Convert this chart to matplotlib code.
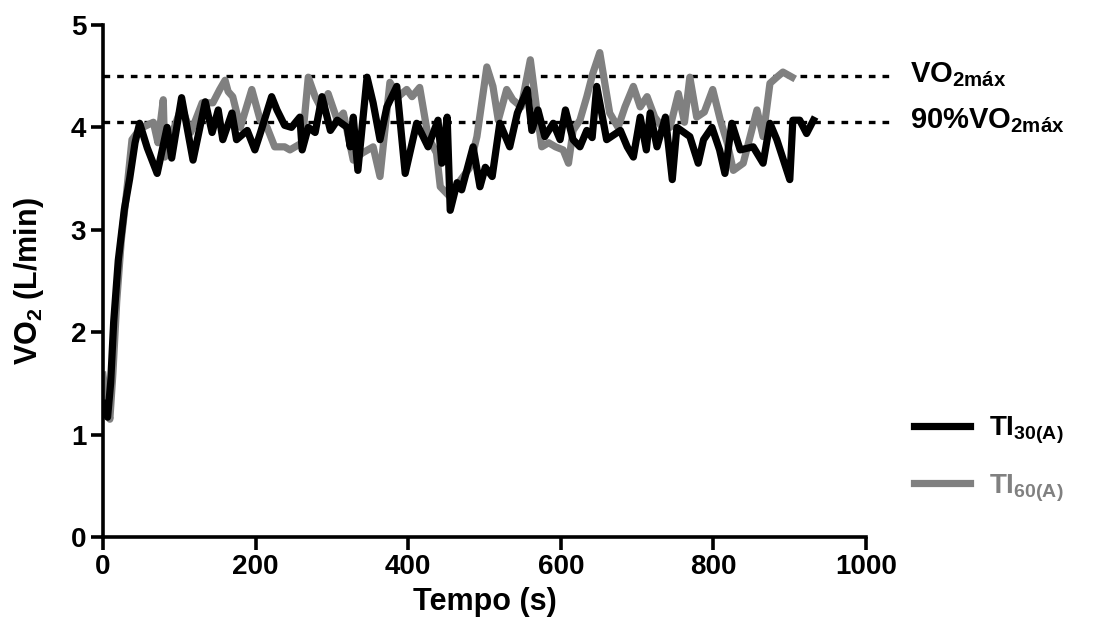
import matplotlib
matplotlib.use("Agg")
import matplotlib.pyplot as plt

# VO2 over time (s), two interval-training sessions
t_30 = [0, 6, 10, 14, 20, 28, 35, 42, 48, 58, 71, 84, 90, 103, 118, 134, 143, 151, 157, 169,
        175, 189, 199, 206, 221, 228, 238, 247, 258, 261, 269, 278, 287, 298, 307, 320, 324, 328, 334, 346,
        354, 363, 372, 385, 396, 411, 426, 439, 444, 451, 455, 464, 470, 485, 494, 501, 510, 520, 533, 543,
        556, 562, 570, 579, 590, 599, 606, 616, 625, 634, 641, 647, 660, 678, 687, 695, 704, 712, 717, 726,
        737, 746, 752, 769, 780, 787, 798, 808, 815, 824, 835, 852, 865, 874, 883, 900, 904, 913, 922, 931]
vo2_30 = [1.3, 1.17, 1.5, 2.1, 2.7, 3.2, 3.5, 3.85, 4.04, 3.8, 3.55, 4.0, 3.7, 4.29, 3.68, 4.25, 3.95, 4.17, 3.88, 4.14,
          3.88, 3.97, 3.78, 3.94, 4.3, 4.17, 4.02, 4.0, 4.1, 3.78, 4.0, 3.95, 4.3, 3.97, 4.07, 4.0, 3.81, 4.1, 3.58, 4.49,
          4.24, 3.88, 4.2, 4.4, 3.55, 4.04, 3.81, 4.07, 3.65, 4.1, 3.19, 3.46, 3.39, 3.81, 3.42, 3.61, 3.52, 4.04, 3.81, 4.14,
          4.37, 3.97, 4.17, 3.91, 4.04, 3.88, 4.17, 3.88, 3.81, 3.97, 3.9, 4.4, 3.88, 3.97, 3.81, 3.71, 4.1, 3.78, 4.14, 3.81,
          4.1, 3.49, 4.0, 3.91, 3.65, 3.88, 4.0, 3.78, 3.55, 4.04, 3.78, 3.81, 3.65, 4.04, 3.88, 3.49, 4.07, 4.07, 3.94, 4.07]

t_60 = [0, 5, 9, 13, 18, 24, 30, 38, 45, 52, 66, 72, 79, 81, 92, 103, 115, 130, 144, 153,
        160, 164, 170, 180, 195, 206, 215, 225, 238, 245, 261, 269, 278, 287, 295, 307, 315, 328, 340, 354,
        363, 376, 387, 398, 405, 415, 426, 437, 442, 455, 468, 480, 490, 503, 511, 518, 529, 537, 548, 560,
        569, 575, 584, 593, 603, 610, 616, 625, 634, 642, 651, 664, 675, 684, 695, 704, 713, 723, 733, 743,
        754, 762, 769, 778, 788, 799, 809, 818, 826, 839, 857, 865, 874, 883, 891, 903]
vo2_60 = [1.58, 1.3, 1.15, 1.6, 2.3, 2.9, 3.3, 3.88, 3.95, 4.0, 4.05, 3.85, 4.27, 3.71, 3.97, 4.2, 3.95, 4.24, 4.24, 4.37,
          4.46, 4.35, 4.3, 4.0, 4.37, 4.07, 4.0, 3.81, 3.81, 3.78, 3.85, 4.49, 4.3, 4.17, 4.33, 4.07, 4.14, 3.68, 3.75, 3.81,
          3.52, 4.44, 4.3, 4.37, 4.3, 4.39, 3.91, 3.75, 3.42, 3.32, 3.48, 3.6, 3.91, 4.59, 4.4, 4.07, 4.37, 4.27, 4.2, 4.66,
          4.14, 3.81, 3.85, 3.81, 3.78, 3.65, 3.97, 4.07, 4.3, 4.53, 4.73, 4.14, 4.0, 4.2, 4.4, 4.2, 4.3, 4.1, 4.0, 4.0,
          4.33, 4.05, 4.49, 4.1, 4.15, 4.37, 4.07, 3.85, 3.58, 3.65, 4.17, 3.91, 4.43, 4.49, 4.54, 4.49]

VO2MAX = 4.5
VO2MAX_90 = 4.05
REF_LABELS = ["VO$_{2máx}$", "90%VO$_{2máx}$"]
SERIES_LABELS = ["TI$_{30(A)}$", "TI$_{60(A)}$"]

plt.rcParams["font.family"] = "Liberation Sans"
plt.rcParams["font.weight"] = "bold"
plt.rcParams["mathtext.fontset"] = "custom"
plt.rcParams["mathtext.rm"] = "Liberation Sans:bold"
plt.rcParams["mathtext.it"] = "Liberation Sans:bold"
plt.rcParams["mathtext.bf"] = "Liberation Sans:bold"

fig = plt.figure(figsize=(10.98, 6.42), dpi=100)
ax = fig.add_axes([0.0938, 0.1636, 0.695, 0.7975])

ax.plot(t_60, vo2_60, color="#808080", lw=5.2, label=SERIES_LABELS[1], zorder=2)
ax.plot(t_30, vo2_30, color="black", lw=5.2, label=SERIES_LABELS[0], zorder=3)

# reference lines run past the axis end
for yv, txt in zip([VO2MAX, VO2MAX_90], REF_LABELS):
    ax.plot([0, 1038], [yv, yv], color="black", lw=2.4, dashes=(2, 2.1),
            clip_on=False, zorder=1)
    ax.text(1058, yv + 0.02, txt, fontsize=21, fontweight="bold", va="center", ha="left")

ax.set_xlim(0, 1000)
ax.set_ylim(0, 5)
ax.set_xticks([0, 200, 400, 600, 800, 1000])
ax.set_yticks([0, 1, 2, 3, 4, 5])
ax.spines[["top", "right"]].set_visible(False)
ax.spines[["left", "bottom"]].set_linewidth(2.6)
ax.tick_params(width=2.6, length=9, labelsize=20, pad=3)
for lab in ax.get_xticklabels() + ax.get_yticklabels():
    lab.set_fontweight("bold")

ax.set_xlabel("Tempo (s)", fontsize=22, fontweight="bold", labelpad=5)
ax.set_ylabel("VO$_2$ (L/min)", fontsize=22, fontweight="bold", labelpad=18)

h, l = ax.get_legend_handles_labels()
leg = fig.legend(h[::-1], l[::-1], loc="center left", bbox_to_anchor=(0.81, 0.285),
                 frameon=False, fontsize=20, handlelength=2.0, handletextpad=0.7,
                 labelspacing=0.95, labelcolor="linecolor")

fig.savefig("out.png", dpi=100)
